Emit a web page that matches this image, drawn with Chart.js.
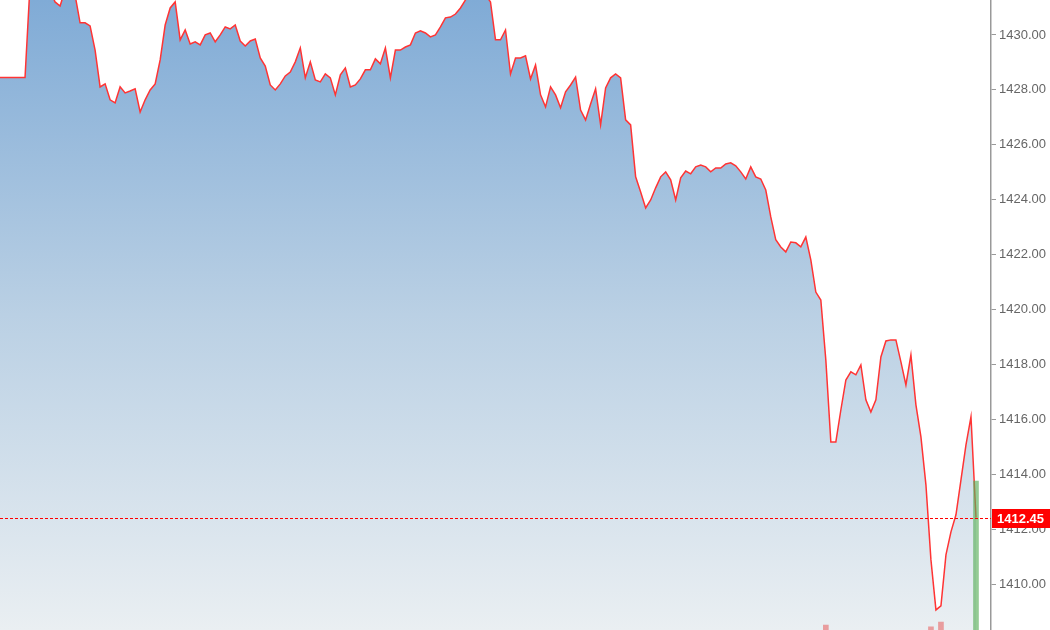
<!DOCTYPE html>
<html>
<head>
<meta charset="utf-8">
<script src="https://cdn.jsdelivr.net/npm/chart.js@4.4.1/dist/chart.umd.min.js"></script>
<style>
  html, body { margin: 0; padding: 0; background: #fff; }
  #wrap { width: 1050px; height: 630px; position: relative; }
</style>
</head>
<body>
<div id="wrap"><canvas id="chart"></canvas></div>
<script>
// price per bar
const prices = [
  1428.45, 1428.45, 1428.45, 1428.45, 1428.45, 1428.45, 1431.82, 1432.00, 1432.18, 1432.00,
  1431.64, 1431.20, 1431.05, 1431.64, 1431.82, 1431.45, 1430.44, 1430.44, 1430.33, 1429.45,
  1428.11, 1428.22, 1427.64, 1427.53, 1428.11, 1427.89, 1427.96, 1428.04, 1427.20, 1427.64,
  1428.00, 1428.22, 1429.09, 1430.36, 1430.98, 1431.20, 1429.82, 1430.18, 1429.67, 1429.75,
  1429.64, 1430.00, 1430.07, 1429.75, 1430.00, 1430.29, 1430.22, 1430.36, 1429.78, 1429.60,
  1429.78, 1429.85, 1429.16, 1428.87, 1428.18, 1428.00, 1428.22, 1428.51, 1428.65, 1429.02,
  1429.53, 1428.44, 1429.02, 1428.36, 1428.29, 1428.58, 1428.44, 1427.82, 1428.55, 1428.80,
  1428.11, 1428.18, 1428.40, 1428.73, 1428.73, 1429.13, 1428.95, 1429.53, 1428.44, 1429.45,
  1429.45, 1429.56, 1429.64, 1430.07, 1430.15, 1430.07, 1429.93, 1430.00, 1430.29, 1430.62,
  1430.65, 1430.76, 1430.98, 1431.27, 1431.64, 1431.71, 1431.64, 1431.45, 1431.20, 1429.82,
  1429.82, 1430.18, 1428.58, 1429.16, 1429.16, 1429.24, 1428.40, 1428.91, 1427.82, 1427.38,
  1428.11, 1427.82, 1427.35, 1427.93, 1428.18, 1428.47, 1427.27, 1426.91, 1427.49, 1428.04,
  1426.73, 1428.07, 1428.44, 1428.58, 1428.44, 1426.91, 1426.73, 1424.84, 1424.29, 1423.71,
  1424.00, 1424.44, 1424.84, 1425.02, 1424.73, 1424.00, 1424.80, 1425.05, 1424.95, 1425.20,
  1425.27, 1425.20, 1425.02, 1425.16, 1425.16, 1425.31, 1425.35, 1425.24, 1425.02, 1424.76,
  1425.20, 1424.84, 1424.76, 1424.36, 1423.38, 1422.55, 1422.29, 1422.11, 1422.47, 1422.44,
  1422.29, 1422.65, 1421.82, 1420.65, 1420.36, 1418.18, 1415.20, 1415.20, 1416.36, 1417.45,
  1417.75, 1417.64, 1418.00, 1416.73, 1416.29, 1416.73, 1418.29, 1418.87, 1418.91, 1418.91,
  1418.11, 1417.27, 1418.36, 1416.55, 1415.38, 1413.64, 1410.91, 1409.09, 1409.24, 1411.09,
  1411.93, 1412.55, 1413.82, 1415.09, 1416.11, 1412.45
];

// a few empty slots after the last bar
const slots = 199;
const times = [];
for (let i = 0; i < slots; i++) {
  const m = 9 * 60 + 30 + i;
  times.push(String(Math.floor(m / 60)).padStart(2, '0') + ':' + String(m % 60).padStart(2, '0'));
}

// only the tops of these volume bars show at the bottom edge
const volIndex = [165, 186, 188, 195];
const volValue = [1032, 1020, 1051, 1946];
const volUp = [false, false, false, true];

const lastPrice = 1412.45;
const yMin = 1408.36;
const yMax = 1431.27;
const tickStep = 2;

const volume = new Array(prices.length).fill(null);
const volColors = new Array(prices.length).fill('rgba(230,110,110,0.6)');
volIndex.forEach((idx, k) => {
  volume[idx] = volValue[k];
  volColors[idx] = volUp[k] ? 'rgba(90,175,90,0.65)' : 'rgba(232,112,112,0.65)';
});

// dashed last-price line and red label on the axis
const lastPricePlugin = {
  id: 'lastPrice',
  afterDraw(chart) {
    const { ctx, chartArea } = chart;
    const y = Math.round(chart.scales.y.getPixelForValue(lastPrice));
    ctx.save();
    ctx.strokeStyle = '#ff0000';
    ctx.lineWidth = 1;
    ctx.setLineDash([3, 2]);
    ctx.beginPath();
    ctx.moveTo(chartArea.left, y + 0.5);
    ctx.lineTo(chartArea.right, y + 0.5);
    ctx.stroke();
    ctx.setLineDash([]);
    ctx.fillStyle = '#ff0000';
    ctx.fillRect(chartArea.right + 1, y - 9, 60, 19);
    ctx.fillStyle = '#fff';
    ctx.font = 'bold 13px "Liberation Sans", Arial, sans-serif';
    ctx.textBaseline = 'middle';
    ctx.textAlign = 'left';
    ctx.fillText(lastPrice.toFixed(2), chartArea.right + 6, y + 1);
    ctx.restore();
  }
};

const ctx = document.getElementById('chart').getContext('2d');
new Chart(ctx, {
  data: {
    labels: times,
    datasets: [
      {
        type: 'line',
        data: prices,
        borderColor: '#ff3434',
        borderWidth: 1.5,
        pointRadius: 0,
        tension: 0,
        fill: 'start',
        order: 1,
        backgroundColor: function (context) {
          const { ctx, chartArea } = context.chart;
          if (!chartArea) return 'rgba(150,185,220,0.8)';
          const g = ctx.createLinearGradient(0, chartArea.top, 0, chartArea.bottom);
          g.addColorStop(0, 'rgb(128,171,214)');
          g.addColorStop(0.5, 'rgb(186,208,228)');
          g.addColorStop(1, 'rgb(234,239,242)');
          return g;
        }
      },
      {
        type: 'bar',
        data: volume,
        yAxisID: 'vol',
        backgroundColor: volColors,
        barThickness: 5,
        order: 0
      }
    ]
  },
  options: {
    responsive: true,
    maintainAspectRatio: false,
    animation: false,
    layout: { padding: 0 },
    plugins: {
      legend: { display: false },
      tooltip: { enabled: false }
    },
    scales: {
      x: {
        display: false,
        offset: false
      },
      y: {
        position: 'right',
        min: yMin,
        max: yMax,
        afterBuildTicks(scale) {
          scale.ticks = scale.ticks.filter(t => Math.abs(t.value / tickStep - Math.round(t.value / tickStep)) < 1e-6);
        },
        afterFit(scale) {
          scale.width = 59;
          scale.paddingTop = 0;
          scale.paddingBottom = 0;
        },
        border: { display: true, color: '#999', width: 1.5 },
        grid: { drawOnChartArea: false, drawTicks: true, tickLength: 5, color: '#999' },
        ticks: {
          stepSize: tickStep,
          padding: 3,
          color: '#666',
          font: { family: '"Liberation Sans", Arial, sans-serif', size: 13 },
          callback: v => Number(v).toFixed(2)
        }
      },
      vol: {
        display: false,
        min: 1000,
        max: 5000
      }
    }
  },
  plugins: [lastPricePlugin]
});
</script>
</body>
</html>
